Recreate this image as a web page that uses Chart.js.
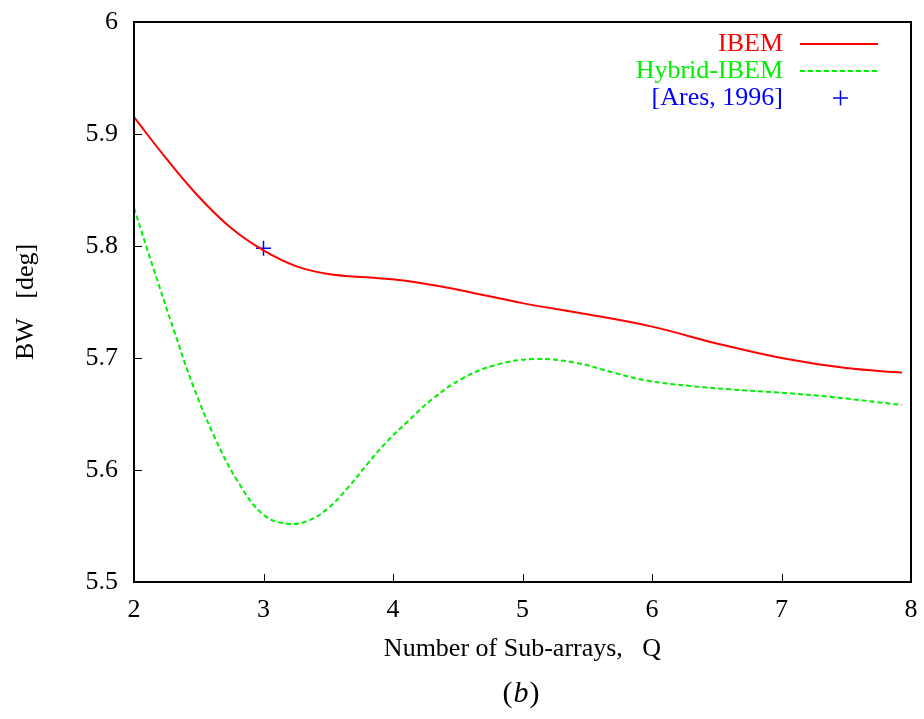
<!DOCTYPE html>
<html>
<head>
<meta charset="utf-8">
<script src="https://cdn.jsdelivr.net/npm/chart.js@4.4.1/dist/chart.umd.min.js"></script>
<style>
  html, body { margin: 0; padding: 0; background: #fff; }
  canvas { display: block; }
</style>
</head>
<body>
<canvas id="chart" width="924" height="719"></canvas>
<script>
// valores
const qIbem = [2, 2.25, 2.5, 2.75, 3, 3.25, 3.5, 3.8, 4.1, 4.5, 5, 5.5, 6, 6.5, 7, 7.5, 7.93];
const bwIbem = [5.915, 5.878, 5.844, 5.816, 5.796, 5.782, 5.775, 5.772, 5.769, 5.761, 5.749, 5.739, 5.728, 5.713, 5.700, 5.691, 5.687];

const qHybrid = [2, 2.15, 2.31, 2.46, 2.62, 2.8, 3, 3.19, 3.35, 3.5, 3.65, 3.8, 3.95, 4.12, 4.3, 4.54, 4.8, 5.08, 5.4, 5.7, 5.95, 6.3, 6.6, 7, 7.4, 7.93];
const bwHybrid = [5.834, 5.780, 5.724, 5.674, 5.630, 5.590, 5.560, 5.552, 5.555, 5.566, 5.584, 5.605, 5.625, 5.644, 5.663, 5.682, 5.694, 5.699, 5.696, 5.687, 5.680, 5.675, 5.672, 5.669, 5.665, 5.658];

const qAres = [3];
const bwAres = [5.798];

const xTicks = [2, 3, 4, 5, 6, 7, 8];
const yTicks = [5.5, 5.6, 5.7, 5.8, 5.9, 6];

const serif = '"Liberation Serif", "DejaVu Serif", serif';
const toPts = (xs, ys) => xs.map((x, i) => ({ x: x, y: ys[i] }));

// caixa, marcas internas, legenda e "(b)"
const moldura = {
    id: 'moldura',
    afterDraw(chart) {
        const ctx = chart.ctx;
        const a = chart.chartArea;
        const sx = chart.scales.x, sy = chart.scales.y;
        ctx.save();
        ctx.strokeStyle = '#000';
        ctx.lineWidth = 2;
        ctx.strokeRect(a.left, a.top, a.right - a.left, a.bottom - a.top);
        ctx.lineWidth = 1;
        ctx.beginPath();
        xTicks.forEach(v => {
            const px = Math.round(sx.getPixelForValue(v)) + 0.5;
            ctx.moveTo(px, a.bottom);
            ctx.lineTo(px, a.bottom - 8);
        });
        yTicks.forEach(v => {
            const py = Math.round(sy.getPixelForValue(v)) + 0.5;
            ctx.moveTo(a.left, py);
            ctx.lineTo(a.left + 8, py);
        });
        ctx.stroke();

        // legenda
        ctx.font = '26px ' + serif;
        ctx.textAlign = 'right';
        ctx.textBaseline = 'middle';
        const rows = [44, 71, 98];
        chart.data.datasets.forEach((ds, i) => {
            const y = rows[i];
            ctx.fillStyle = ds.borderColor;
            ctx.fillText(ds.label, 783, y);
            ctx.strokeStyle = ds.borderColor;
            if (ds.showLine === false) {
                ctx.lineWidth = 1.5;
                ctx.beginPath();
                ctx.moveTo(833, y); ctx.lineTo(848, y);
                ctx.moveTo(840.5, y - 7.5); ctx.lineTo(840.5, y + 7.5);
                ctx.stroke();
            } else {
                ctx.lineWidth = ds.borderWidth;
                ctx.setLineDash(ds.borderDash || []);
                ctx.beginPath();
                ctx.moveTo(800, y); ctx.lineTo(878, y);
                ctx.stroke();
                ctx.setLineDash([]);
            }
        });

        // (b) com parênteses retos e b itálico
        ctx.fillStyle = '#000';
        ctx.textAlign = 'left';
        ctx.font = '30px ' + serif;
        const wp = ctx.measureText('(').width;
        ctx.font = 'italic 30px ' + serif;
        const wb = ctx.measureText('b').width;
        let x0 = 520 - (2 * wp + wb) / 2;
        ctx.font = '30px ' + serif;
        ctx.fillText('(', x0, 694);
        ctx.font = 'italic 30px ' + serif;
        ctx.fillText('b', x0 + wp + 1, 694);
        ctx.font = '30px ' + serif;
        ctx.fillText(')', x0 + wp + wb + 2, 694);
        ctx.restore();
    }
};

new Chart(document.getElementById('chart'), {
    type: 'scatter',
    data: {
        datasets: [
            {
                label: 'IBEM',
                data: toPts(qIbem, bwIbem),
                showLine: true,
                borderColor: '#ff0000',
                borderWidth: 2,
                pointRadius: 0,
                tension: 0.4
            },
            {
                label: 'Hybrid-IBEM',
                data: toPts(qHybrid, bwHybrid),
                showLine: true,
                borderColor: '#00f000',
                borderWidth: 2,
                borderDash: [5, 3],
                pointRadius: 0,
                tension: 0.4
            },
            {
                label: '[Ares, 1996]',
                data: toPts(qAres, bwAres),
                showLine: false,
                borderColor: '#0000ff',
                backgroundColor: '#0000ff',
                borderWidth: 1.5,
                pointStyle: 'cross',
                pointRadius: 7.5
            }
        ]
    },
    options: {
        responsive: false,
        animation: false,
        layout: { padding: { top: 22, right: 13, left: 0, bottom: 0 } },
        plugins: {
            legend: { display: false },
            tooltip: { enabled: false }
        },
        scales: {
            x: {
                type: 'linear',
                min: 2, max: 8,
                afterBuildTicks: s => { s.ticks = xTicks.map(v => ({ value: v })); },
                afterFit: s => { s.height = 137; s.paddingLeft = 0; s.paddingRight = 0; },
                grid: { display: false, drawTicks: false },
                border: { display: false },
                ticks: { color: '#000', font: { family: serif, size: 26 }, padding: 13, maxRotation: 0 },
                title: {
                    display: true,
                    text: 'Number of Sub-arrays,   Q',
                    color: '#000',
                    font: { family: serif, size: 26 },
                    padding: { top: 4, bottom: 54 }
                }
            },
            y: {
                min: 5.5, max: 6,
                afterBuildTicks: s => { s.ticks = yTicks.map(v => ({ value: v })); },
                afterFit: s => { s.width = 134; s.paddingTop = 0; s.paddingBottom = 0; },
                grid: { display: false, drawTicks: false },
                border: { display: false },
                ticks: {
                    color: '#000',
                    font: { family: serif, size: 26 },
                    padding: 16,
                    callback: v => String(Math.round(v * 10) / 10)
                },
                title: {
                    display: true,
                    text: 'BW   [deg]',
                    color: '#000',
                    font: { family: serif, size: 26 },
                    padding: { top: 11, bottom: 4 }
                }
            }
        }
    },
    plugins: [moldura]
});
</script>
</body>
</html>
